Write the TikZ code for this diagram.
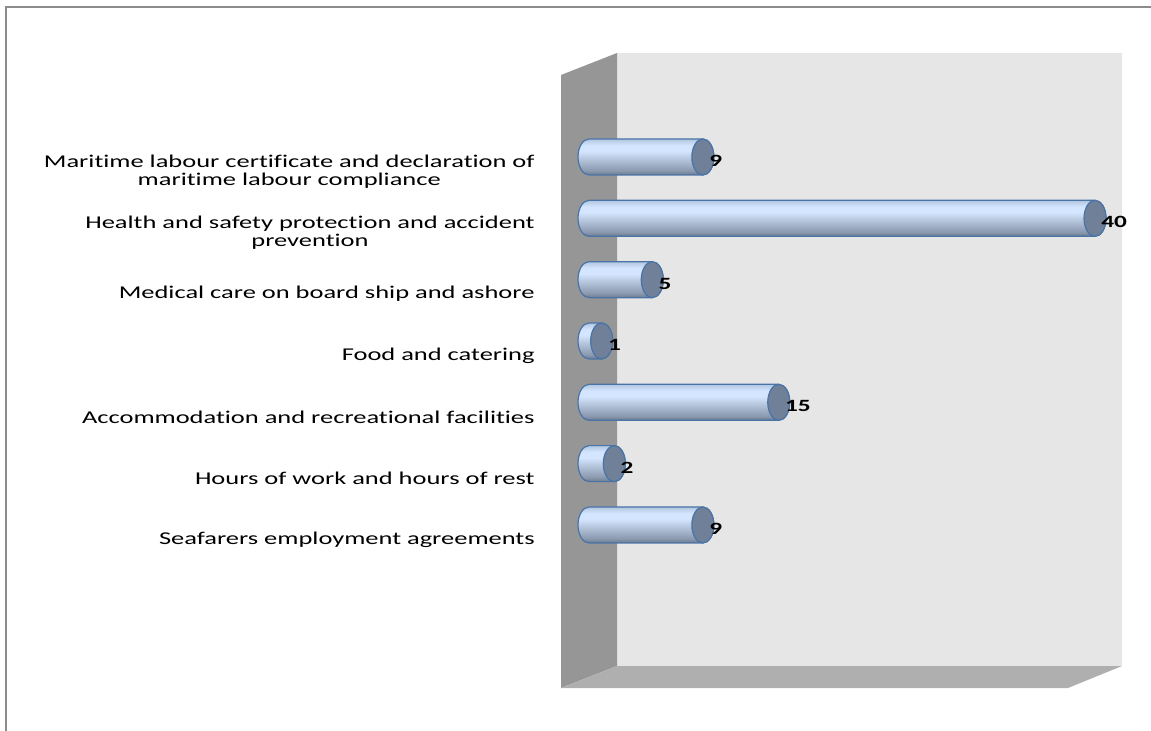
\documentclass[tikz,border=0pt]{standalone}
\usepackage{fontspec}
\newfontfamily\catfont[FakeStretch=1.47, Ligatures=NoCommon]{Carlito}
\usetikzlibrary{positioning}

\definecolor{wallside}{HTML}{969696}
\definecolor{wallback}{HTML}{E6E6E6}
\definecolor{wallfloor}{HTML}{AFAFAF}
\definecolor{framegray}{HTML}{8C8C8C}
\definecolor{barline}{HTML}{4A73A6}
\definecolor{barcap}{HTML}{708099}
\definecolor{bardark}{HTML}{6A798F}
\definecolor{barlow}{HTML}{8B99AF}
\definecolor{barmid}{HTML}{BCCDE4}
\definecolor{barlight}{HTML}{D4E6FF}
\definecolor{bartop}{HTML}{B2C6E0}
\pgfdeclareverticalshading{barbody}{100bp}{color(0bp)=(bardark); color(25bp)=(bardark); color(31bp)=(barlow); color(50bp)=(barmid); color(58bp)=(barlight); color(66bp)=(barlight); color(75bp)=(bartop); color(100bp)=(bartop)}

\begin{document}
\begin{tikzpicture}[x=0.5pt, y=-0.5pt,
		catlabel/.style={font=\catfont\fontsize{9}{9}\selectfont, align=center, anchor=east, inner sep=0pt},
		vallabel/.style={font=\catfont\bfseries\fontsize{8.6}{8.6}\selectfont, anchor=west, inner sep=0pt},
		barshape/.style={draw=barline, line width=0.6pt, shading=barbody},
		barend/.style={draw=barline, line width=0.6pt, fill=barcap},
	]
		\useasboundingbox (0,0) rectangle (1151,731);
		\draw[framegray, line width=1pt] (6,731) -- (6,7) -- (1151,7);

		\fill[wallback] (617,53) rectangle (1122,666);
		\fill[wallside] (561,75) -- (617,53) -- (617,666) -- (561,688) -- cycle;
		\fill[wallfloor] (561,688) -- (617,666) -- (1122,666) -- (1068,688) -- cycle;

		\foreach \val/\txt [count=\i] in {
			9/{Maritime labour certificate and declaration of\\maritime labour compliance},
			40/{Health and safety protection and accident\\prevention},
			5/{Medical care on board ship and ashore},
			1/{Food and catering},
			15/{Accommodation and recreational facilities},
			2/{Hours of work and hours of rest},
			9/{Seafarers employment agreements}}{
			\pgfmathsetmacro{\yc}{157+(\i-1)*61.33}
			\pgfmathsetmacro{\xe}{589+\val*12.65}
			\path[barshape] (\xe,\yc-18) -- (589,\yc-18) arc[start angle=270, end angle=90, x radius=11, y radius=18] -- (\xe,\yc+18) arc[start angle=90, end angle=-90, x radius=11, y radius=18] -- cycle;
			\draw[barend] (\xe,\yc) ellipse [x radius=11, y radius=18];
			\node[vallabel] (val\i) at (\xe+6,\yc+4) {\val};
			\node[catlabel] (cat\i) at (535,\yc+14.5) {\txt};
		}
	\end{tikzpicture}
\end{document}
